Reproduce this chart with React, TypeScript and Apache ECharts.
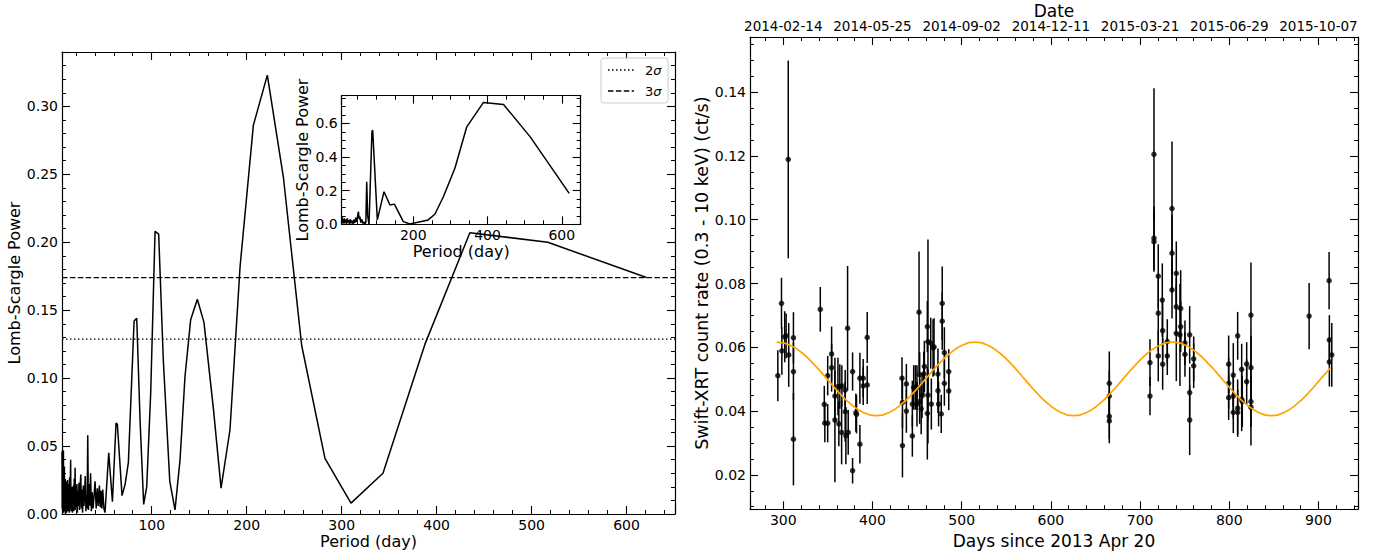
import React, { useEffect, useRef } from 'react';
import * as echarts from 'echarts';

const FONT = 'DejaVu Sans';

// Lomb-Scargle periodogram of the light curve (main panel)
const mainPeriod = [
  5.5, 5.75, 6.0, 6.25, 6.5, 6.75, 7.0, 7.25, 7.5, 7.75, 8.0, 8.25, 8.5, 8.75, 9.0, 9.25, 9.5, 9.75, 10.0,
  10.35, 10.7, 11.05, 11.4, 11.75, 12.1, 12.45, 12.8, 13.15, 13.5, 13.85, 14.2, 14.6, 14.95, 15.3, 15.65, 16.0, 16.4, 16.8, 17.2, 17.6, 18.0, 18.4, 18.8, 19.3, 19.7,
  20.2, 20.7, 21.2, 21.7, 22.2, 22.8, 23.4, 24.0, 24.6, 25.3, 25.9, 26.5, 27.2, 27.9, 28.6, 29.3, 30.0, 30.7, 31.4, 32.0, 32.6, 33.3, 34.0, 34.8, 35.6,
  36.4, 37.3, 38.2, 39.1, 40.3, 41.5, 42.7, 43.7, 44.9, 45.8, 46.6, 47.5, 48.4, 49.6, 50.8,
  54.7, 58.6, 62.4, 63.8, 68.7, 72.0, 75.4, 81.4, 84.2, 87.7, 91.5, 94.7, 98.9, 103.5, 107.3, 112.2, 119.0, 124.5, 129.8, 135.0,
  141.0, 148.0, 155.0, 165.0, 173.0, 182.4, 193.0, 207.0, 221.7, 238.6, 257.9, 282.4, 309.8, 343.5, 387.7, 435.0, 517.0, 621.0,
];
const mainPower = [
  0.046, 0.004, 0.038, 0.002, 0.030, 0.008, 0.047, 0.001, 0.022, 0.006, 0.035, 0.002, 0.018, 0.004, 0.026, 0.000, 0.020, 0.007, 0.024,
  0.001, 0.016, 0.003, 0.025, 0.002, 0.019, 0.006, 0.022, 0.001, 0.027, 0.004, 0.018, 0.040, 0.002, 0.015, 0.005, 0.020, 0.001, 0.017, 0.004, 0.021, 0.002, 0.026, 0.007, 0.034, 0.003,
  0.020, 0.005, 0.022, 0.001, 0.017, 0.006, 0.023, 0.003, 0.020, 0.029, 0.004, 0.018, 0.001, 0.021, 0.006, 0.016, 0.028, 0.002, 0.014, 0.004, 0.058, 0.003, 0.022, 0.006, 0.030,
  0.002, 0.016, 0.004, 0.012, 0.024, 0.004, 0.019, 0.006, 0.021, 0.005, 0.017, 0.004, 0.018, 0.004, 0.001,
  0.045, 0.009, 0.067, 0.066, 0.0135, 0.022, 0.038, 0.142, 0.144, 0.069, 0.007, 0.020, 0.089, 0.208, 0.206, 0.113, 0.024, 0.003, 0.040, 0.101,
  0.143, 0.158, 0.141, 0.077, 0.019, 0.062, 0.182, 0.286, 0.323, 0.248, 0.124, 0.041, 0.008, 0.030, 0.125, 0.207, 0.200, 0.174,
];

// significance levels
const sigmaNames = ['2σ', '3σ'];
const sigmaLevels = [0.1287, 0.174];

// inset periodogram
const insetPeriod = [
  7, 8, 9, 10, 11.5, 13, 14.5, 16, 18, 20, 22, 24, 26, 28, 30, 32.5, 35, 37.5, 40, 42.5,
  45, 47.5, 50, 52, 54, 56, 58.5, 61, 64, 67, 70, 72, 74.4, 77, 80.6, 88.5, 90.5, 103, 121, 137,
  149, 173, 191, 240, 258, 281, 312, 344, 389, 443, 515, 620,
];
const insetPower = [
  0.045, 0.010, 0.040, 0.005, 0.030, 0.004, 0.035, 0.008, 0.028, 0.003, 0.035, 0.010, 0.025, 0.002, 0.030, 0.006, 0.022, 0.003, 0.028, 0.008,
  0.040, 0.015, 0.050, 0.075, 0.030, 0.045, 0.010, 0.030, 0.004, 0.015, 0.002, 0.010, 0.253, 0.050, 0.000, 0.550, 0.560, 0.026, 0.194, 0.115,
  0.120, 0.016, 0.002, 0.026, 0.060, 0.164, 0.333, 0.580, 0.725, 0.713, 0.520, 0.184,
];

// Swift-XRT light curve
const obsDay = [
  293.9, 298.0, 298.4, 301.6, 303.2, 306.1, 305.6, 311.4, 311.4, 311.4,
  341.5, 346.0, 346.6, 349.8, 349.8, 354.2, 354.2, 357.9, 357.9, 361.3, 362.3, 363.4, 365.4, 365.7, 369.4, 369.4, 370.2, 372.1, 372.8,
  377.7, 377.7, 381.4, 382.1, 385.9, 385.9, 389.6, 389.6, 394.1, 394.1,
  433.1, 433.6, 433.6, 438.0, 438.0, 444.7, 444.7, 446.2, 448.1, 449.9, 449.9, 452.2, 452.9, 452.9, 454.6, 455.6, 457.5, 458.2,
  461.5, 461.5, 462.2, 462.2, 465.3, 466.0, 467.9, 469.0, 473.4, 473.4, 474.1, 477.1, 478.2, 478.2, 480.6, 480.6, 485.5, 485.5,
  665.5, 665.5, 665.5, 665.5,
  711.1, 711.1, 715.6, 715.6, 715.6, 720.4, 720.4, 720.4, 724.9, 725.3, 725.3, 730.5, 730.5, 735.8, 735.8, 735.8,
  740.6, 740.6, 740.6, 745.5, 745.5, 744.7, 750.3, 750.3, 755.6, 755.6, 755.6, 760.1, 760.1,
  799.3, 799.3, 799.3, 804.5, 804.5, 804.5, 809.4, 809.4, 809.4, 813.9, 813.9, 814.6, 819.5, 819.5, 824.3, 824.3, 824.3, 824.3,
  889.5, 911.9, 912.2, 914.9, 912.2,
];
const obsRate = [
  0.0511, 0.0738, 0.0589, 0.0633, 0.0636, 0.0576, 0.1189, 0.0630, 0.0524, 0.0312,
  0.0719, 0.0421, 0.0362, 0.0362, 0.0511, 0.0579, 0.0536, 0.0447, 0.0372, 0.0477, 0.0360, 0.0477, 0.0333, 0.0479, 0.0466, 0.0398, 0.0323, 0.0660, 0.0333,
  0.0213, 0.0524, 0.0395, 0.0390, 0.0296, 0.0503, 0.0503, 0.0479, 0.0631, 0.0482,
  0.0503, 0.0427, 0.0292, 0.0485, 0.0400, 0.0422, 0.0322, 0.0474, 0.0474, 0.0474, 0.0422, 0.0710, 0.0430, 0.0514, 0.0407, 0.0448, 0.0517, 0.0540,
  0.0665, 0.0393, 0.0450, 0.0618, 0.0613, 0.0422, 0.0598, 0.0601, 0.0516, 0.0464, 0.0422, 0.0391, 0.0738, 0.0682, 0.0583, 0.0487, 0.0524, 0.0463,
  0.0487, 0.0447, 0.0383, 0.0369,
  0.0552, 0.0447, 0.1205, 0.0942, 0.0931, 0.0823, 0.0707, 0.0573, 0.0748, 0.0652, 0.0547, 0.0618, 0.0573, 0.1035, 0.0895, 0.0780,
  0.0832, 0.0727, 0.0644, 0.0722, 0.0665, 0.0639, 0.0614, 0.0578, 0.0639, 0.0458, 0.0372, 0.0564, 0.0542,
  0.0547, 0.0487, 0.0442, 0.0513, 0.0447, 0.0396, 0.0636, 0.0409, 0.0396, 0.0531, 0.0437, 0.0430, 0.0548, 0.0492, 0.0701, 0.0536, 0.0430, 0.0412,
  0.0698, 0.0809, 0.0623, 0.0576, 0.0554,
];
const obsErr = [
  0.0080, 0.0080, 0.0075, 0.0080, 0.0070, 0.0100, 0.0310, 0.0080, 0.0090, 0.0145,
  0.0070, 0.0058, 0.0060, 0.0060, 0.0062, 0.0086, 0.0075, 0.0080, 0.0195, 0.0090, 0.0070, 0.0070, 0.0100, 0.0065, 0.0063, 0.0094, 0.0090, 0.0195, 0.0070,
  0.0040, 0.0060, 0.0060, 0.0060, 0.0060, 0.0080, 0.0060, 0.0060, 0.0080, 0.0060,
  0.0066, 0.0080, 0.0100, 0.0063, 0.0068, 0.0073, 0.0065, 0.0070, 0.0070, 0.0070, 0.0070, 0.0190, 0.0070, 0.0070, 0.0080, 0.0070, 0.0070, 0.0080,
  0.0080, 0.0145, 0.0080, 0.0320, 0.0080, 0.0080, 0.0090, 0.0090, 0.0080, 0.0070, 0.0070, 0.0060, 0.0115, 0.0090, 0.0080, 0.0070, 0.0070, 0.0060,
  0.0100, 0.0080, 0.0070, 0.0070,
  0.0073, 0.0060, 0.0207, 0.0100, 0.0094, 0.0100, 0.0120, 0.0080, 0.0115, 0.0090, 0.0080, 0.0070, 0.0060, 0.0210, 0.0120, 0.0090,
  0.0100, 0.0090, 0.0150, 0.0120, 0.0080, 0.0160, 0.0070, 0.0070, 0.0090, 0.0080, 0.0110, 0.0070, 0.0070,
  0.0090, 0.0080, 0.0070, 0.0100, 0.0070, 0.0065, 0.0075, 0.0090, 0.0070, 0.0080, 0.0100, 0.0080, 0.0068, 0.0070, 0.0165, 0.0100, 0.0080, 0.0120,
  0.0104, 0.0090, 0.0078, 0.0100, 0.0077,
];

// sinusoid model
const modelDay = [
  292.5, 307.3, 321.2, 335.0, 348.9, 362.7, 376.5, 390.4, 404.2, 418.1, 431.9, 445.7, 459.6, 473.4, 487.3, 501.1,
  515.0, 528.8, 542.6, 556.5, 570.3, 584.2, 598.0, 611.8, 625.7, 639.5, 653.4, 667.2, 681.0, 694.9, 708.7, 722.6,
  736.4, 750.3, 764.1, 777.9, 791.8, 805.6, 819.5, 833.3, 847.1, 861.0, 874.8, 888.7, 902.5, 913.5,
];
const modelRate = [
  0.0616, 0.0607, 0.0582, 0.0545, 0.0501, 0.0457, 0.0420, 0.0395, 0.0386, 0.0395, 0.0420, 0.0457, 0.0501, 0.0545, 0.0582, 0.0607,
  0.0616, 0.0607, 0.0582, 0.0545, 0.0501, 0.0457, 0.0420, 0.0395, 0.0386, 0.0395, 0.0420, 0.0457, 0.0501, 0.0545, 0.0582, 0.0607,
  0.0616, 0.0607, 0.0582, 0.0545, 0.0501, 0.0457, 0.0420, 0.0395, 0.0386, 0.0395, 0.0420, 0.0457, 0.0501, 0.0536,
];

// top axis of the light curve
const dateTicks = [300, 400, 500, 600, 700, 800, 900];
const dateLabels = ['2014-02-14', '2014-05-25', '2014-09-02', '2014-12-11', '2015-03-21', '2015-06-29', '2015-10-07'];

const mainRange = [5.5, 651];
const insetRange = [7, 651];
const dayRange = [262.7, 944.3];

const spine = { show: true, onZero: false, lineStyle: { color: '#000', width: 1.2 } };
const tick = { show: true, inside: true, length: 8, lineStyle: { color: '#000', width: 1.1 } };
const minor = (n: number) => ({ show: true, splitNumber: n, length: 4, lineStyle: { color: '#000', width: 1 } });
const noSplit = { show: false };
const label = (extra: any) => ({ fontSize: 14, color: '#000', fontFamily: FONT, margin: 4, ...extra });
const nameStyle = (size: number) => ({ fontSize: size, color: '#000', fontFamily: FONT });

const frame = (gridIndex: number, position: string, range: number[], n: number, extra: any = {}) => ({
  type: 'value',
  gridIndex,
  position,
  min: range[0],
  max: range[1],
  axisLine: spine,
  axisTick: tick,
  minorTick: minor(n),
  splitLine: noSplit,
  axisLabel: { show: false },
  ...extra,
});

// legend box drawn by hand so that the dotted / dashed samples match
function legendGraphic(): any[] {
  const x0 = 601;
  const y0 = 58;
  const rows = sigmaNames.map((name, i) => {
    const cy = y0 + 12 + i * 21;
    return [
      {
        type: 'line',
        shape: { x1: x0 + 7, y1: cy, x2: x0 + 33, y2: cy },
        style: { stroke: '#000', lineWidth: 1.3, lineDash: i === 0 ? [1.5, 2.5] : [5.5, 2.4] },
      },
      {
        type: 'text',
        x: x0 + 44,
        y: cy,
        style: {
          text: `{n|${name.charAt(0)}}{s|σ}`,
          verticalAlign: 'middle',
          rich: {
            n: { fontSize: 13, fontFamily: FONT, fill: '#000' },
            s: { fontSize: 13, fontFamily: FONT, fontStyle: 'italic', fill: '#000' },
          },
        },
      },
    ];
  });
  return [
    {
      type: 'rect',
      shape: { x: x0, y: y0, width: 67, height: 45, r: 3 },
      style: { fill: 'rgba(255,255,255,0.8)', stroke: '#cccccc', lineWidth: 1 },
      z: 10,
    },
    ...rows.flat().map((el) => ({ ...el, z: 11 })),
  ];
}

function buildOption(): any {
  const errBars = obsDay.map((d, i) => [d, obsRate[i], obsErr[i]]);

  return {
    animation: false,
    backgroundColor: '#fff',
    textStyle: { fontFamily: FONT },
    grid: [
      { left: 62, top: 52, width: 613, height: 462, outerBoundsMode: 'none', containLabel: false },
      {
        left: 341.7, top: 95.7, width: 239, height: 128.6, show: true, backgroundColor: '#fff', borderWidth: 0,
        outerBoundsMode: 'none', containLabel: false,
      },
      { left: 750, top: 37, width: 608, height: 472.3, outerBoundsMode: 'none', containLabel: false },
    ],
    graphic: legendGraphic(),
    xAxis: [
      frame(0, 'bottom', mainRange, 5, {
        axisLabel: label({ showMinLabel: false, showMaxLabel: false }),
        name: 'Period (day)', nameLocation: 'middle', nameGap: 19.5, nameMoveOverlap: false, nameTextStyle: nameStyle(16),
      }),
      frame(0, 'top', mainRange, 5),
      frame(1, 'bottom', insetRange, 4, {
        splitNumber: 3,
        axisLabel: label({ showMinLabel: false, showMaxLabel: false }),
        name: 'Period (day)', nameLocation: 'middle', nameGap: 18, nameTextStyle: nameStyle(16),
      }),
      frame(1, 'top', insetRange, 4, { splitNumber: 3 }),
      frame(2, 'bottom', dayRange, 5, {
        axisLabel: label({ showMinLabel: false, showMaxLabel: false }),
        name: 'Days since 2013 Apr 20', nameLocation: 'middle', nameGap: 21, nameTextStyle: nameStyle(17),
      }),
      frame(2, 'top', dayRange, 5, {
        axisLabel: label({
          fontSize: 13.5,
          showMinLabel: false,
          showMaxLabel: false,
          formatter: (v: number) => {
            const i = dateTicks.indexOf(Math.round(v));
            return i >= 0 ? dateLabels[i] : '';
          },
        }),
        name: 'Date', nameLocation: 'middle', nameGap: 18, nameMoveOverlap: false, nameTextStyle: nameStyle(17),
      }),
    ],
    yAxis: [
      frame(0, 'left', [0, 0.34], 5, {
        interval: 0.05,
        axisLabel: label({ showMaxLabel: false, formatter: (v: number) => v.toFixed(2) }),
        name: 'Lomb-Scargle Power', nameLocation: 'middle', nameGap: 39, nameTextStyle: nameStyle(16),
      }),
      frame(0, 'right', [0, 0.34], 5, { interval: 0.05 }),
      frame(1, 'left', [0, 0.765], 4, {
        interval: 0.2,
        axisLabel: label({ showMaxLabel: false, formatter: (v: number) => v.toFixed(1) }),
        name: 'Lomb-Scargle Power', nameLocation: 'middle', nameGap: 31, nameTextStyle: nameStyle(16),
      }),
      frame(1, 'right', [0, 0.765], 4, { interval: 0.2 }),
      frame(2, 'left', [0.0092, 0.1573], 4, {
        splitNumber: 7,
        axisLabel: label({ showMinLabel: false, showMaxLabel: false, formatter: (v: number) => v.toFixed(2) }),
        name: 'Swift-XRT count rate (0.3 - 10 keV) (ct/s)', nameLocation: 'middle', nameGap: 38, nameTextStyle: nameStyle(17.5),
      }),
      frame(2, 'right', [0.0092, 0.1573], 4, { splitNumber: 7 }),
    ],
    series: [
      {
        type: 'line',
        xAxisIndex: 0,
        yAxisIndex: 0,
        data: mainPeriod.map((p, i) => [p, mainPower[i]]),
        symbol: 'none',
        silent: true,
        lineStyle: { color: '#000', width: 1.5 },
      },
      ...sigmaNames.map((name, i) => ({
        type: 'line',
        name,
        xAxisIndex: 0,
        yAxisIndex: 0,
        data: [[mainRange[0], sigmaLevels[i]], [mainRange[1], sigmaLevels[i]]],
        symbol: 'none',
        silent: true,
        lineStyle: { color: '#000', width: 1.3, type: i === 0 ? [1.5, 2.5] : [5.5, 2.4] },
      })),
      {
        type: 'line',
        xAxisIndex: 2,
        yAxisIndex: 2,
        data: insetPeriod.map((p, i) => [p, insetPower[i]]),
        symbol: 'none',
        silent: true,
        z: 4,
        lineStyle: { color: '#000', width: 1.5 },
      },
      {
        type: 'custom',
        xAxisIndex: 4,
        yAxisIndex: 4,
        data: errBars,
        encode: { x: 0, y: 1 },
        silent: true,
        renderItem: (_params: any, api: any) => {
          const x = api.value(0);
          const y = api.value(1);
          const e = api.value(2);
          const lo = api.coord([x, y - e]);
          const hi = api.coord([x, y + e]);
          return {
            type: 'line',
            shape: { x1: lo[0], y1: lo[1], x2: hi[0], y2: hi[1] },
            style: { stroke: '#000', lineWidth: 1.5 },
          };
        },
      },
      {
        type: 'scatter',
        xAxisIndex: 4,
        yAxisIndex: 4,
        data: obsDay.map((d, i) => [d, obsRate[i]]),
        symbol: 'circle',
        symbolSize: 5.5,
        silent: true,
        itemStyle: { color: '#000' },
      },
      {
        type: 'line',
        xAxisIndex: 4,
        yAxisIndex: 4,
        data: modelDay.map((d, i) => [d, modelRate[i]]),
        symbol: 'none',
        smooth: 0.5,
        silent: true,
        z: 5,
        lineStyle: { color: '#FFA500', width: 1.7 },
      },
    ],
  };
}

const App: React.FC = () => {
  const chartRef = useRef<HTMLDivElement>(null);

  useEffect(() => {
    if (!chartRef.current) return;
    const chart = echarts.init(chartRef.current, undefined, { renderer: 'svg' });
    chart.setOption(buildOption());
    return () => {
      chart.dispose();
    };
  }, []);

  return (
    <div
      ref={chartRef}
      style={{ position: 'fixed', left: 0, top: 0, width: 1381, height: 554, background: '#fff' }}
    />
  );
};

export default App;
